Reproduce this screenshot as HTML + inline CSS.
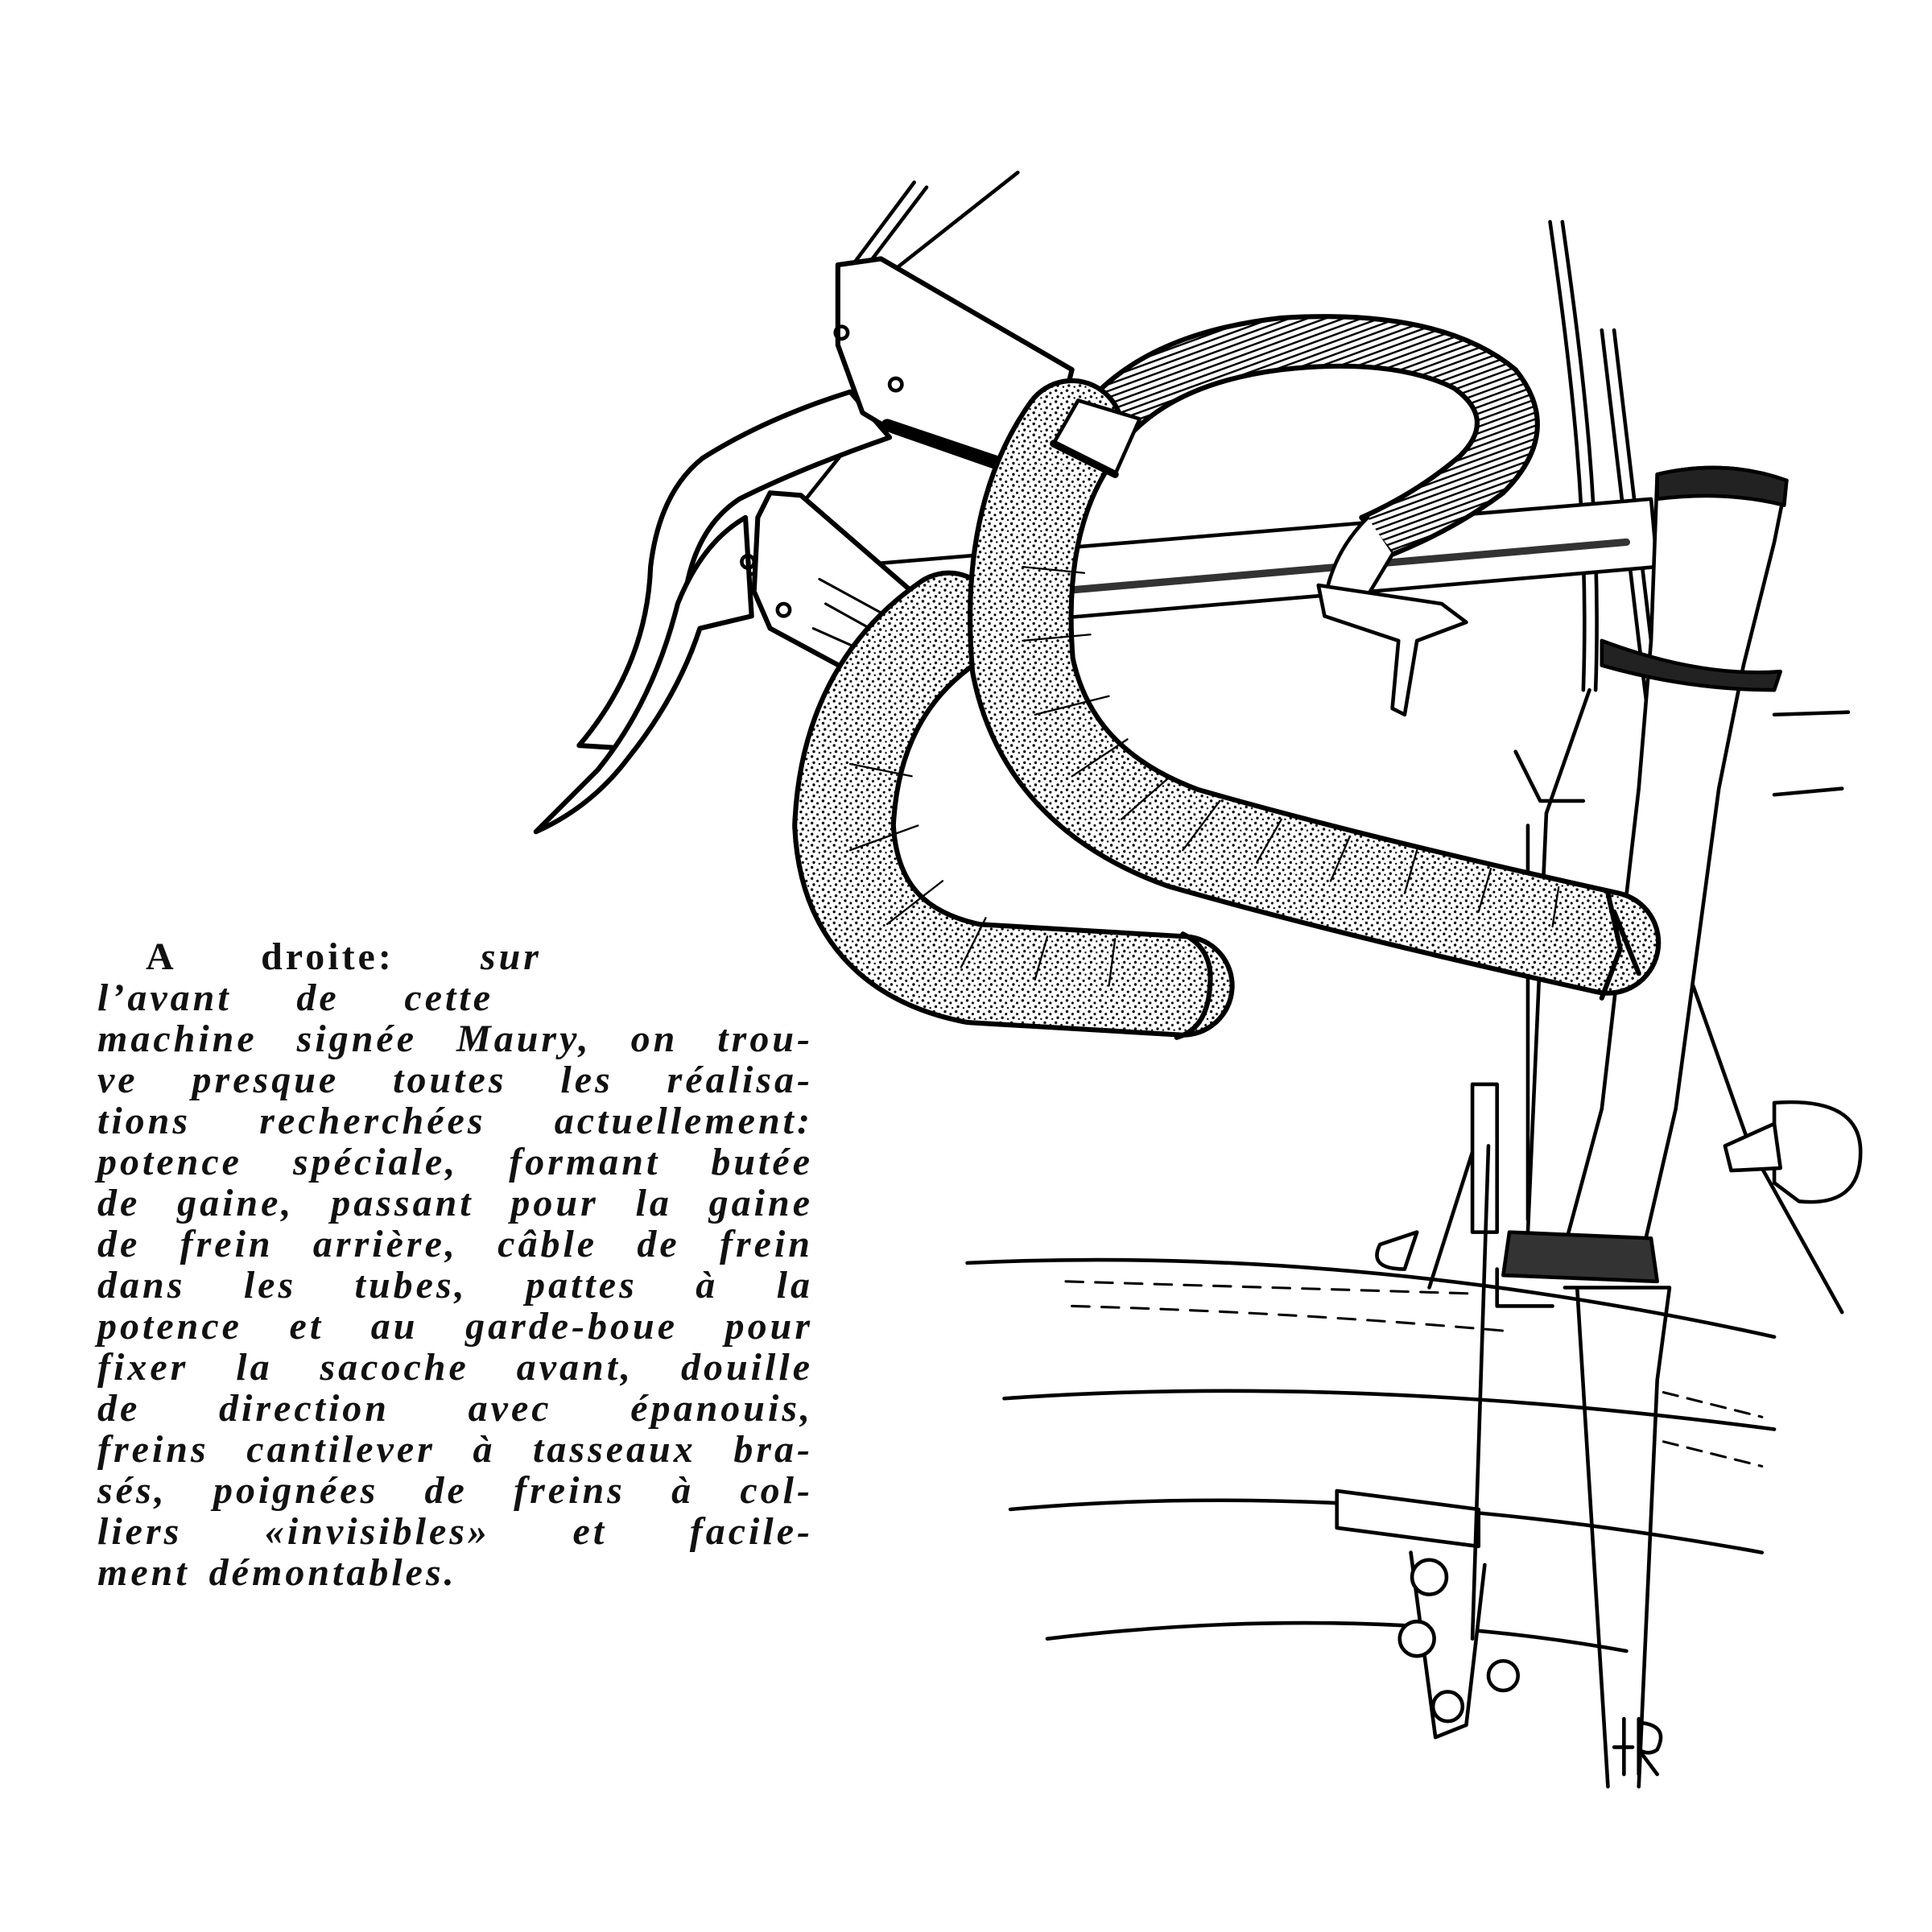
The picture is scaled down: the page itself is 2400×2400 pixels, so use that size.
<!DOCTYPE html>
<html><head><meta charset="utf-8"><style>
html,body{margin:0;padding:0;background:#fff;}
body{width:2400px;height:2400px;position:relative;overflow:hidden;}
svg{position:absolute;left:0;top:0;}
.t{position:absolute;left:121px;width:889px;font-family:"Liberation Serif",serif;font-weight:bold;font-style:italic;font-size:48px;line-height:51px;letter-spacing:4px;color:#111;}
.l{display:block;text-align:justify;text-align-last:justify;height:51px;white-space:nowrap;}
</style></head><body>
<svg width="2400" height="2400" viewBox="0 0 1568 1568" xmlns="http://www.w3.org/2000/svg">
<defs>
<pattern id="dots" width="9" height="9" patternUnits="userSpaceOnUse">
<rect width="9" height="9" fill="#fff"/>
<circle cx="2" cy="2" r="1.1" fill="#000"/><circle cx="6.5" cy="4" r="1" fill="#000"/><circle cx="3.5" cy="7" r="1.1" fill="#000"/><circle cx="8" cy="8" r="0.8" fill="#000"/>
</pattern>
<pattern id="hatch" width="5" height="5" patternUnits="userSpaceOnUse" patternTransform="rotate(70)">
<rect width="5" height="5" fill="#fff"/><rect width="1.6" height="5" fill="#000"/>
</pattern>
</defs>
<g fill="none" stroke="#000" stroke-width="3" stroke-linecap="round" stroke-linejoin="round">
<path d="M742 148 L692 215 M752 152 L702 218"/>
<path d="M826 140 L722 222"/>
<path d="M690 360 L650 410"/>
<path d="M1258 180 C1275 300 1290 420 1285 560"/>
<path d="M1268 180 C1285 300 1300 420 1295 560"/>
<path d="M1300 268 L1330 520 L1360 760 L1420 930 L1495 1065"/>
<path d="M1310 268 L1340 520 L1370 760"/>
<path d="M1290 560 L1255 660 L1240 1000"/>
<path d="M560 470 L1340 405 L1345 460 L740 512" fill="#fff"/>
<path d="M740 490 L1320 440" stroke-width="6" stroke="#333"/>
<path d="M1345 385 Q1400 372 1450 390 L1440 440 L1415 540 L1395 640 L1360 900 L1330 1030 L1265 1030 L1300 900 L1330 640 L1340 520 Z" fill="#fff"/>
<path d="M1345 385 Q1400 372 1450 390 L1448 410 Q1400 398 1345 405 Z" fill="#222"/>
<path d="M1300 520 Q1380 550 1445 545 L1440 560 Q1370 560 1300 540 Z" fill="#222"/>
<path d="M1440 580 L1500 578 M1440 645 L1495 640"/>
<path d="M1225 1000 L1340 1005 L1345 1040 L1220 1035 Z" fill="#333"/>
<path d="M1270 1045 L1355 1045 L1345 1120 L1330 1450 M1280 1045 L1305 1450"/>
<path d="M1215 1030 L1215 1060 L1260 1060" />
<path d="M785 1025 Q1100 1010 1440 1085"/>
<path d="M865 1040 L1200 1050" stroke-dasharray="14 10" stroke-width="2"/>
<path d="M870 1060 Q1050 1065 1220 1080" stroke-dasharray="14 10" stroke-width="2"/>
<path d="M815 1135 Q1100 1115 1440 1160"/>
<path d="M820 1225 Q1100 1200 1430 1260"/>
<path d="M850 1330 Q1100 1300 1320 1340"/>
<path d="M1350 1130 L1430 1150 M1350 1170 L1430 1190" stroke-dasharray="12 8" stroke-width="2"/>
<path d="M1085 1210 L1200 1225 L1200 1255 L1085 1240 Z" fill="#fff"/>
<path d="M1145 1260 L1165 1410 L1190 1400 L1205 1270" fill="#fff"/>
<circle cx="1160" cy="1280" r="14" fill="#fff"/><circle cx="1150" cy="1330" r="14" fill="#fff"/><circle cx="1220" cy="1360" r="12" fill="#fff"/><circle cx="1175" cy="1385" r="12" fill="#fff"/>
<path d="M1195 880 L1215 880 L1215 1000 L1195 1000 Z" fill="#fff"/>
<path d="M1208 930 L1195 1330"/>
<path d="M1120 1010 Q1110 1030 1140 1030 L1150 1000 Z" fill="#fff"/>
<path d="M1160 1045 L1195 935"/>
<path d="M1230 610 L1250 650 L1285 650 M1240 670 L1240 990" />
<path d="M1440 895 Q1510 890 1510 935 Q1510 980 1460 975 L1440 960 Z" fill="#fff"/>
<path d="M1400 930 L1440 912 L1445 948 L1405 950 Z" fill="#fff"/>
<path d="M690 318 Q620 340 570 372 Q535 400 528 460 Q525 540 470 605 L502 607 Q545 565 555 490 Q562 430 600 405 Q650 380 722 355 Z" fill="#fff" stroke-width="4"/>
<path d="M680 215 L715 210 L870 300 L860 340 L825 385 L725 350 L700 335 L680 280 Z" fill="#fff" stroke-width="4"/>
<circle cx="683" cy="270" r="5"/><circle cx="727" cy="312" r="5"/>
<path d="M720 345 L860 392" stroke-width="10"/>
<path d="M605 420 Q570 440 550 490 Q530 570 485 625 L435 675 Q480 655 510 615 Q550 565 568 510 L610 500 Z" fill="#fff" stroke-width="4"/>
<path d="M625 400 L650 402 L740 480 L735 530 L690 545 L625 510 L612 480 L615 420 Z" fill="#fff" stroke-width="4"/>
<circle cx="607" cy="456" r="5"/><circle cx="636" cy="495" r="5"/>
<path d="M665 470 L720 500 M670 490 L715 515 M660 510 L705 530" stroke-width="2"/>
<path d="M880 330 Q930 270 1040 258 Q1170 250 1230 300 Q1270 350 1220 400 Q1180 430 1130 450 L1105 420 Q1150 400 1185 370 Q1215 340 1180 315 Q1130 290 1040 300 Q960 310 920 350 Z" fill="url(#hatch)" stroke-width="4"/>
<path d="M1110 420 Q1080 450 1075 490 L1100 500 L1130 450" fill="#fff"/>
<path d="M1070 475 L1170 490 L1190 505 L1150 520 L1140 580 L1130 575 L1135 520 L1075 500 Z" fill="#fff"/>
<path d="M770 505 Q690 560 685 670 Q690 770 790 790 L960 800" stroke="#000" stroke-width="84"/>
<path d="M770 505 Q690 560 685 670 Q690 770 790 790 L960 800" stroke="url(#dots)" stroke-width="76"/>
<path d="M960 758 Q985 770 982 800 Q980 835 955 842" stroke-width="4"/>
<path d="M870 350 Q820 420 830 540 Q850 640 960 680 Q1100 720 1305 765" stroke="#000" stroke-width="86"/>
<path d="M870 350 Q820 420 830 540 Q850 640 960 680 Q1100 720 1305 765" stroke="url(#dots)" stroke-width="78"/>
<path d="M875 325 L925 340 L905 385 L855 360 Z" fill="#fff"/>
<path d="M855 360 L905 385" stroke-width="6"/>
<path d="M1305 725 L1315 770 L1300 810 M1310 740 L1330 790" stroke-width="4"/>
<g stroke-width="1.5">
<path d="M830 460 L880 465 M830 520 L885 515 M840 580 L900 565 M870 630 L915 600 M910 665 L950 630 M960 690 L990 650 M1020 700 L1040 665 M1080 715 L1095 680 M1140 725 L1150 690 M1200 740 L1210 705 M1260 752 L1265 720"/>
<path d="M690 620 L740 630 M690 690 L745 670 M720 750 L765 715 M780 785 L800 745 M840 795 L850 760 M900 800 L905 762"/>
</g>
<path d="M1318 1395 L1318 1440 M1310 1418 L1325 1418 M1330 1395 L1330 1440 M1330 1398 Q1355 1400 1345 1420 Q1338 1425 1330 1420 L1345 1440" stroke-width="3"/>
</g>
</svg>
<div class="t" style="top:1163px;">
<span class="l" style="width:492px;margin-left:60px;"><span style="font-style:normal;">A droite:</span> sur</span>
<span class="l" style="width:492px;">l’avant de cette</span>
<span class="l">machine signée Maury, on trou-</span>
<span class="l">ve presque toutes les réalisa-</span>
<span class="l">tions recherchées actuellement:</span>
<span class="l">potence spéciale, formant butée</span>
<span class="l">de gaine, passant pour la gaine</span>
<span class="l">de frein arrière, câble de frein</span>
<span class="l">dans les tubes, pattes à la</span>
<span class="l">potence et au garde-boue pour</span>
<span class="l">fixer la sacoche avant, douille</span>
<span class="l">de direction avec épanouis,</span>
<span class="l">freins cantilever à tasseaux bra-</span>
<span class="l">sés, poignées de freins à col-</span>
<span class="l">liers «invisibles» et facile-</span>
<span class="l" style="text-align-last:left;word-spacing:8px;">ment démontables.</span>
</div>
</body></html>
